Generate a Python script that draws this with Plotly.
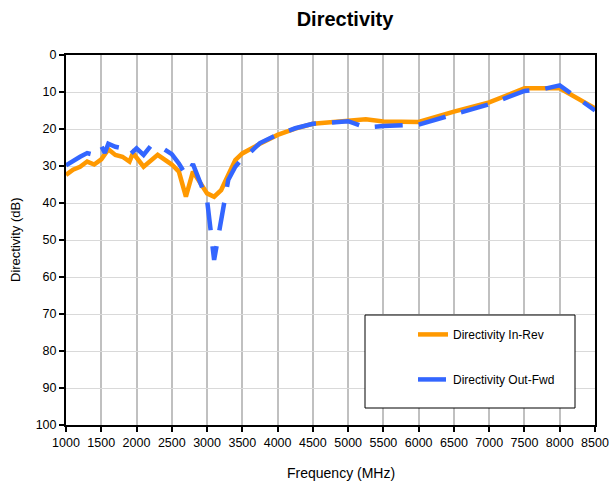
import plotly.graph_objects as go

freq_in = [1000, 1100, 1200, 1300, 1400, 1500, 1600, 1700, 1800, 1900, 1950, 2100, 2300, 2400,
           2500, 2600, 2700, 2800, 2900, 3000, 3100, 3200, 3300, 3400, 3500, 3600, 3750, 4000,
           4250, 4500, 5000, 5250, 5500, 6000, 6500, 7000, 7500, 8000, 8500]
dir_in_rev = [32.4, 31.0, 30.2, 28.8, 29.6, 28.2, 25.5, 27.0, 27.5, 28.8, 26.5, 30.2, 27.0, 28.4,
              29.6, 31.5, 38.3, 31.5, 34.2, 37.4, 38.3, 36.5, 32.4, 28.4, 26.6, 25.5, 24.0, 21.6,
              19.9, 18.6, 17.8, 17.4, 18.0, 18.1, 15.3, 12.8, 9.0, 9.0, 14.4]

freq_out = [1000, 1100, 1200, 1300, 1400, 1500, 1550, 1600, 1700, 1800, 1850, 1900, 2000, 2100,
            2200, 2300, 2400, 2500, 2600, 2700, 2800, 2900, 3000, 3100, 3300, 3400, 3500, 3600,
            3750, 4000, 4250, 4500, 5000, 5250, 5500, 6000, 6500, 7000, 7500, 7750, 8000, 8500]
dir_out_fwd = [29.8, 28.5, 27.5, 26.5, 27.0, 24.6, 26.5, 24.0, 24.8, 25.2, 25.7, 27.0, 25.2, 27.0,
               24.6, 24.3, 25.5, 26.8, 29.3, 32.5, 29.5, 34.5, 39.2, 55.4, 33.8, 30.2, 28.0, 26.5,
               23.8, 21.5, 19.8, 18.6, 17.9, 19.6, 19.2, 18.8, 16.0, 13.3, 9.7, 9.3, 8.2, 15.0]

x_ticks = [1000, 1500, 2000, 2500, 3000, 3500, 4000, 4500, 5000, 5500, 6000, 6500, 7000, 7500, 8000, 8500]
y_ticks = [0, 10, 20, 30, 40, 50, 60, 70, 80, 90, 100]

fig = go.Figure()
fig.add_trace(go.Scatter(x=freq_in, y=dir_in_rev, mode="lines", name="Directivity In-Rev",
                         line=dict(color="#FF9900", width=4.5), legendgroup="a"))
fig.add_trace(go.Scatter(x=freq_out, y=dir_out_fwd, mode="lines", name="Directivity Out-Fwd",
                         line=dict(color="#3366FF", width=4.5, dash="28px,16px"), legendgroup="b"))

fnt = "Liberation Sans, Arial, sans-serif"
L, R, T, B = 66, 15, 55, 60
PW, PH = 610 - L - R, 485 - T - B
fig.update_layout(
    width=610, height=485,
    margin=dict(l=L, r=R, t=T, b=B, autoexpand=False),
    paper_bgcolor="white", plot_bgcolor="white",
    font=dict(family=fnt, size=12, color="black"),
    title=dict(text="<b>Directivity</b>", x=345 / 610, xanchor="center", y=1 - 19 / 485, yanchor="middle",
               font=dict(family=fnt, size=20, color="black")),
    showlegend=True,
    legend=dict(x=0.656, y=0.284, xanchor="left", yanchor="top", bgcolor="rgba(0,0,0,0)",
                borderwidth=0, font=dict(family=fnt, size=12, color="black"),
                traceorder="grouped", tracegroupgap=26, itemwidth=30),
    shapes=[dict(type="rect", xref="paper", yref="paper",
                 x0=(365 - L) / PW, x1=(575 - L) / PW,
                 y0=(485 - B - 408) / PH, y1=(485 - B - 315) / PH,
                 line=dict(color="black", width=1), fillcolor="white", layer="above")],
    annotations=[
        dict(text="Frequency (MHz)", xref="paper", yref="paper", x=(341 - L) / PW,
             y=(485 - B - 473) / PH, xanchor="center", yanchor="middle", showarrow=False,
             font=dict(family=fnt, size=14, color="black")),
        dict(text="Directivity (dB)", xref="paper", yref="paper", x=(15 - L) / PW,
             y=0.5, xanchor="center", yanchor="middle", showarrow=False, textangle=-90,
             font=dict(family=fnt, size=13, color="black")),
    ],
)
fig.update_xaxes(range=[1000, 8500], tickvals=x_ticks, ticks="outside", ticklen=5, tickwidth=2,
                 tickcolor="black", showline=True, linecolor="black", linewidth=2, mirror=True,
                 showgrid=True, gridcolor="#C0C0C0", gridwidth=2, zeroline=False, automargin=False,
                 tickfont=dict(family=fnt, size=12.5))
fig.update_yaxes(range=[100, 0], tickvals=y_ticks, ticks="outside", ticklen=5, tickwidth=2,
                 tickcolor="black", showline=True, linecolor="black", linewidth=2, mirror=True,
                 showgrid=True, gridcolor="#D9D9D9", gridwidth=1, zeroline=False, automargin=False,
                 tickfont=dict(family=fnt, size=12.5))

fig.write_html("out.html", config={"displayModeBar": False},
               post_script="document.body.style.margin='0';document.body.style.padding='0';")
